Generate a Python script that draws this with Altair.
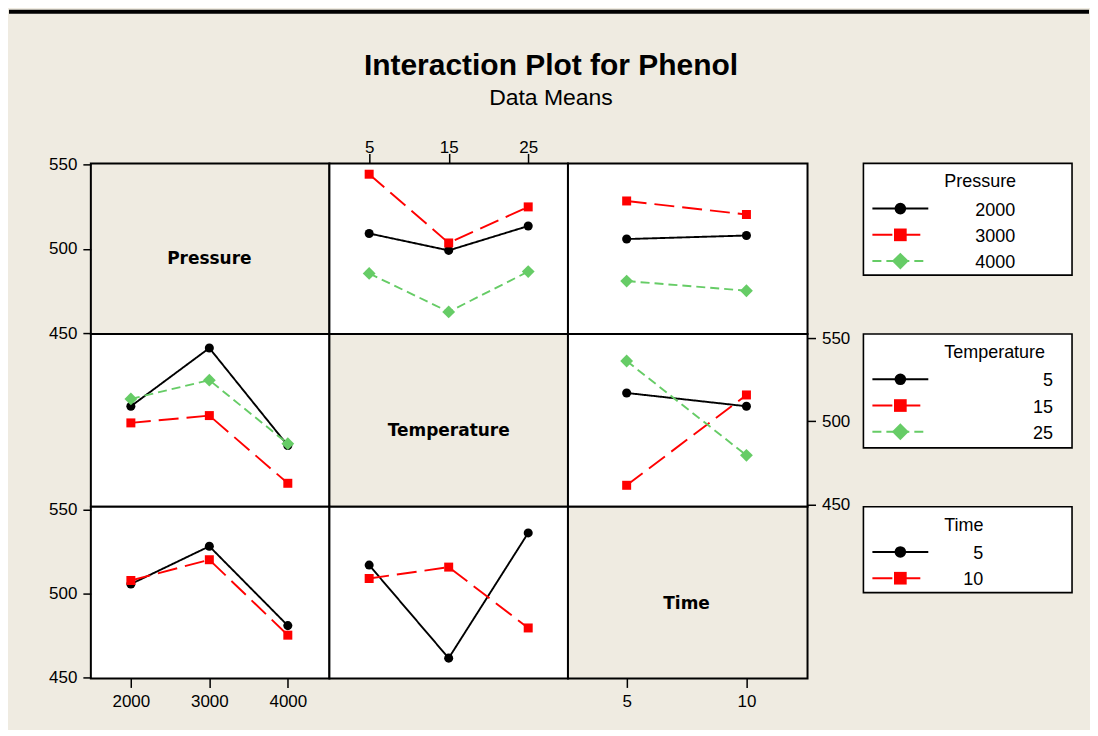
import altair as alt
import pandas as pd

# ---------------- data ----------------
chart_title = "Interaction Plot for Phenol"
chart_subtitle = "Data Means"

factor_names = ["Pressure", "Temperature", "Time"]
pressure_levels = [2000, 3000, 4000]
temperature_levels = [5, 15, 25]
time_levels = [5, 10]

# two-way cell means (rows = first factor level, cols = second factor level)
means_pressure_temperature = [
    [509.0, 499.0, 513.4],
    [544.0, 503.4, 524.7],
    [485.4, 462.7, 486.5],
]
means_pressure_time = [
    [505.7, 507.8],
    [528.2, 520.2],
    [480.9, 475.2],
]
means_temperature_time = [
    [517.0, 509.0],
    [461.5, 515.8],
    [536.2, 479.5],
]

y_ticks = [450, 500, 550]

# ---------------- styling / layout ----------------
levels = {"Pressure": pressure_levels, "Temperature": temperature_levels, "Time": time_levels}
tables = {
    ("Pressure", "Temperature"): means_pressure_temperature,
    ("Pressure", "Time"): means_pressure_time,
    ("Temperature", "Time"): means_temperature_time,
}

BG = "#EFEBE1"
FONT = "Liberation Sans"
series_colors = ["#000000", "#FF0000", "#66CC66"]
series_shapes = ["circle", "square", "diamond"]
series_dash = [[1, 0], [20, 8], [9, 5]]
marker_sizes = [82, 81, 165]
legend_marker_sizes = [135, 161, 285]
K_DOMAIN = [0, 1, 2]

col_widths = [239, 239, 240]
row_heights = [171, 173, 172]
x_domains = {"Pressure": [1490, 4530], "Temperature": [0, 30], "Time": [2.55, 12.55]}
y_domains = [[449.6, 550.4], [448.6, 552.4], [449.4, 551.8]]

y_axis_cells = {(0, 0): "left", (1, 2): "right", (2, 0): "left"}
x_axis_cells = {(0, 1): "top", (2, 0): "bottom", (2, 2): "bottom"}

legend_box_heights = [112, 114, 86]
legend_label_right = [208, 246, 176]
LEG_GAP = 56
LEG_W = 209


def cell_mean(fa, ia, fb, ib):
    if (fa, fb) in tables:
        return tables[(fa, fb)][ia][ib]
    return tables[(fb, fa)][ib][ia]


def x_axis(r, c):
    o = x_axis_cells.get((r, c))
    if o is None:
        return None
    kw = dict(orient=o, values=levels[factor_names[c]], format="d", title=None, grid=False,
              domain=False, ticks=True, tickWidth=1.5, tickColor="black",
              labelFont=FONT, labelFontSize=17, labelColor="black",
              labelFlush=False, labelOverlap=False)
    if o == "top":
        kw.update(tickSize=10, labelPadding=1, labelBaseline="alphabetic")
    else:
        kw.update(tickSize=9, labelPadding=6)
    return alt.Axis(**kw)


def y_axis(r, c):
    o = y_axis_cells.get((r, c))
    if o is None:
        return None
    return alt.Axis(orient=o, values=y_ticks, format="d", title=None, grid=False,
                    domain=False, ticks=True, tickSize=8, tickWidth=1.5, tickColor="black",
                    labelFont=FONT, labelFontSize=17, labelColor="black", labelPadding=6,
                    labelOverlap=False)


def ord_scale(rng):
    return alt.Scale(type="ordinal", domain=K_DOMAIN, range=rng)


def color_enc():
    return alt.Color("k:N", scale=ord_scale(series_colors), legend=None)


def dash_enc():
    return alt.StrokeDash("k:N", scale=ord_scale(series_dash), legend=None)


def style_enc(sizes):
    return dict(
        color=color_enc(),
        shape=alt.Shape("k:N", scale=ord_scale(series_shapes), legend=None),
        size=alt.Size("k:N", scale=ord_scale(sizes), legend=None),
    )


def dummy():
    return pd.DataFrame({"d": [0]})


def decorations():
    # frame extent, top bar, title and subtitle (positioned relative to first panel)
    extent = alt.Chart(dummy()).mark_rect(opacity=0).encode(
        x=alt.value(-82), x2=alt.value(1000), y=alt.value(-154), y2=alt.value(566))
    bar = alt.Chart(dummy()).mark_rect(color="black").encode(
        x=alt.value(-82), x2=alt.value(1000), y=alt.value(-154), y2=alt.value(-150))
    title = alt.Chart(dummy()).mark_text(
        font=FONT, fontSize=30, fontWeight="bold", color="black", align="center",
        baseline="alphabetic").encode(x=alt.value(461), y=alt.value(-88.5),
                                      text=alt.value(chart_title))
    subtitle = alt.Chart(dummy()).mark_text(
        font=FONT, fontSize=23, color="black", align="center",
        baseline="alphabetic").encode(x=alt.value(461), y=alt.value(-58.5),
                                      text=alt.value(chart_subtitle))
    return [extent, bar, title, subtitle]


def make_cell(r, c):
    fr, fc = factor_names[r], factor_names[c]
    xenc = alt.X(f"{fc}:Q", scale=alt.Scale(domain=x_domains[fc], nice=False, zero=False),
                 axis=x_axis(r, c))
    yenc = alt.Y("mean:Q", scale=alt.Scale(domain=y_domains[r], nice=False, zero=False),
                 axis=y_axis(r, c))
    if r == c:
        lv = levels[fc]
        df = pd.DataFrame({fc: [(min(lv) + max(lv)) / 2], "mean": [500], "label": [fc]})
        layers = [alt.Chart(df).mark_text(
            font="DejaVu Sans", fontSize=17, fontWeight="bold", color="black",
            baseline="middle", dy=10).encode(x=xenc, y=yenc, text="label:N")]
        fill = BG
    else:
        rows = []
        for i, _sv in enumerate(levels[fr]):
            for j, xv in enumerate(levels[fc]):
                rows.append({fc: xv, "k": i, "mean": cell_mean(fr, i, fc, j)})
        df = pd.DataFrame(rows)
        base = alt.Chart(df).encode(x=xenc, y=yenc)
        lines = base.mark_line(strokeWidth=1.9).encode(
            color=color_enc(), strokeDash=dash_enc(), detail="k:N",
        )
        pts = base.mark_point(filled=True, opacity=1, strokeWidth=0).encode(**style_enc(marker_sizes))
        layers = [lines, pts]
        fill = "white"
    if (r, c) == (0, 0):
        layers = decorations() + layers
    return alt.layer(*layers).properties(
        width=col_widths[c], height=row_heights[r],
        view=alt.ViewBackground(fill=fill, stroke="black", strokeWidth=2),
    )


def make_legend(r):
    f = factor_names[r]
    lv = levels[f]
    n = len(lv)
    bh = legend_box_heights[r]
    df = pd.DataFrame({"slot": list(range(1, n + 1)), "k": list(range(n)),
                       "label": [str(v) for v in lv]})
    yscale = alt.Scale(domain=[0, 1], range=[19, 45.3], nice=False, zero=False)
    yenc = alt.Y("slot:Q", scale=yscale, axis=None)
    box = alt.Chart(dummy()).mark_rect(fill="white", stroke="black", strokeWidth=1.6).encode(
        x=alt.value(LEG_GAP), x2=alt.value(LEG_GAP + LEG_W), y=alt.value(0), y2=alt.value(bh))
    tdf = pd.DataFrame({"slot": [0], "label": [f]})
    title = alt.Chart(tdf).mark_text(font=FONT, fontSize=18, color="black", align="left",
                                     baseline="middle").encode(
        x=alt.value(LEG_GAP + 81), y=yenc, text="label:N")
    base = alt.Chart(df).encode(y=yenc)
    rules = base.mark_rule(strokeWidth=2).encode(
        x=alt.value(LEG_GAP + 9), x2=alt.value(LEG_GAP + 65),
        color=color_enc(), strokeDash=dash_enc(),
    )
    pts = base.mark_point(filled=True, opacity=1, strokeWidth=0).encode(
        x=alt.value(LEG_GAP + 37), **style_enc(legend_marker_sizes))
    labels = base.mark_text(font=FONT, fontSize=18, color="black", align="right",
                            baseline="middle", dy=2).encode(
        x=alt.value(legend_label_right[r]), text="label:N")
    return alt.layer(box, rules, pts, title, labels).properties(
        width=LEG_GAP + LEG_W, height=bh,
        view=alt.ViewBackground(fill="transparent", stroke="transparent", strokeWidth=0),
    )


cells = []
for r in range(3):
    for c in range(3):
        cells.append(make_cell(r, c))
    cells.append(make_legend(r))

chart = alt.concat(*cells, columns=4, spacing=0, bounds="flush").resolve_scale(
    x="independent", y="independent", color="independent", shape="independent",
    size="independent", strokeDash="independent",
).properties(padding=0, background=BG)

chart.save("out.html", embed_options={"renderer": "svg", "actions": False})
